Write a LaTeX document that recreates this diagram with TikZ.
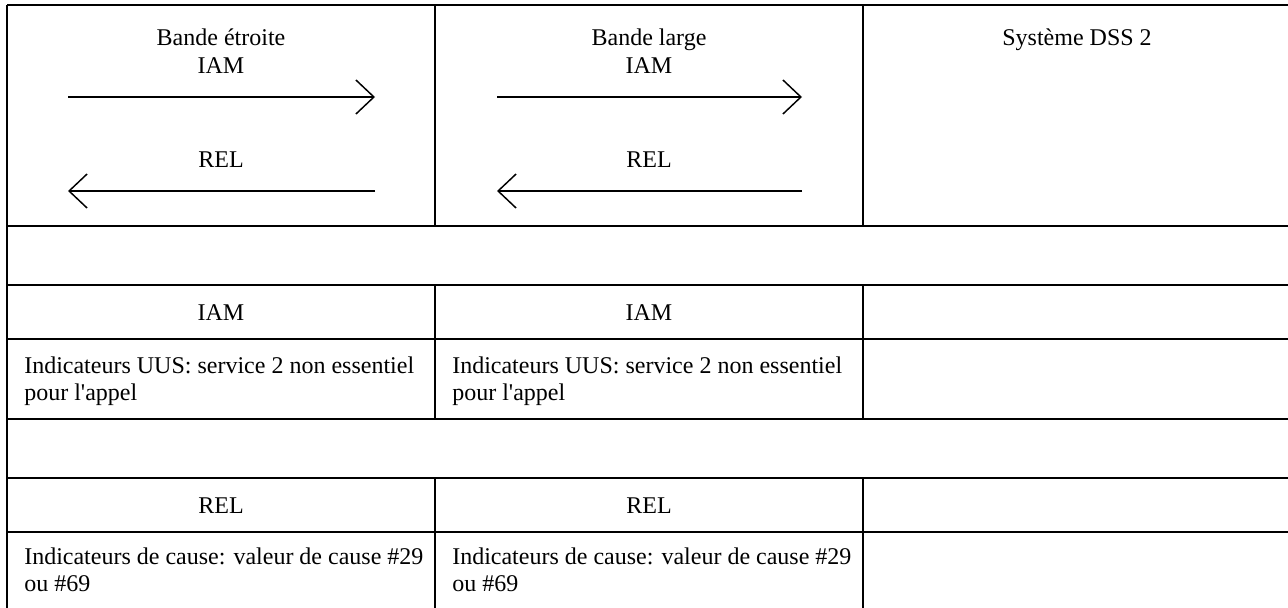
\documentclass[tikz,border=0pt]{standalone}
\usepackage{fontspec}
\setmainfont{Liberation Serif}[Ligatures=TeXOff]
\usetikzlibrary{arrows.meta}
\begin{document}
\begin{tikzpicture}[x=0.75pt,y=-0.75pt,
  rule/.style={line width=1.5pt},
  msg/.style={line width=1.1pt,-{Straight Barb[length=13.5pt,width=25.5pt]}},
  lbl/.style={font=\fontsize{18}{20.25}\selectfont, inner sep=0pt, anchor=base},
  para/.style={font=\fontsize{18}{20.25}\selectfont, inner sep=0pt, anchor=base west, align=left}]
\useasboundingbox (0,0) rectangle (1288,607);
\clip (0,0) rectangle (1288,607);
% table rules
\draw[rule] (7,5) -- (1291,5);
\foreach \yy in {226,285,339,419,478,532} \draw[rule] (7,\yy) -- (1291,\yy);
\draw[rule] (7,5) -- (7,615);
\foreach \xx in {435,863} {
  \draw[rule] (\xx,5) -- (\xx,226);
  \draw[rule] (\xx,285) -- (\xx,419);
  \draw[rule] (\xx,478) -- (\xx,615);
}
% header texts
\node[lbl] (h1a) at (221,45) {Bande étroite};
\node[lbl] (h1b) at (221,73) {IAM};
\node[lbl] (h1c) at (221,167) {REL};
\node[lbl] (h2a) at (649,45) {Bande large};
\node[lbl] (h2b) at (649,73) {IAM};
\node[lbl] (h2c) at (649,167) {REL};
\node[lbl] (h3) at (1077,45) {Système DSS 2};
% arrows
\coordinate (a1s) at (68,97);  \coordinate (a1e) at (375,97);
\coordinate (b1s) at (375,191); \coordinate (b1e) at (68,191);
\coordinate (a2s) at (497,97); \coordinate (a2e) at (802,97);
\coordinate (b2s) at (802,191); \coordinate (b2e) at (497,191);
\draw[msg] (a1s) -- (a1e);
\draw[msg] (b1s) -- (b1e);
\draw[msg] (a2s) -- (a2e);
\draw[msg] (b2s) -- (b2e);
% body rows
\node[lbl] (r1a) at (221,320) {IAM};
\node[lbl] (r1b) at (649,320) {IAM};
\node[para] (u1) at (24,400) {Indicateurs UUS: service 2 non essentiel\\pour l'appel};
\node[para] (u2) at (452,400) {Indicateurs UUS: service 2 non essentiel\\pour l'appel};
\node[lbl] (r2a) at (221,513) {REL};
\node[lbl] (r2b) at (649,513) {REL};
\node[para] (c1) at (24,591) {Indicateurs de cause: valeur de cause \#29\\ou \#69};
\node[para] (c2) at (452,591) {Indicateurs de cause: valeur de cause \#29\\ou \#69};
\end{tikzpicture}
\end{document}
